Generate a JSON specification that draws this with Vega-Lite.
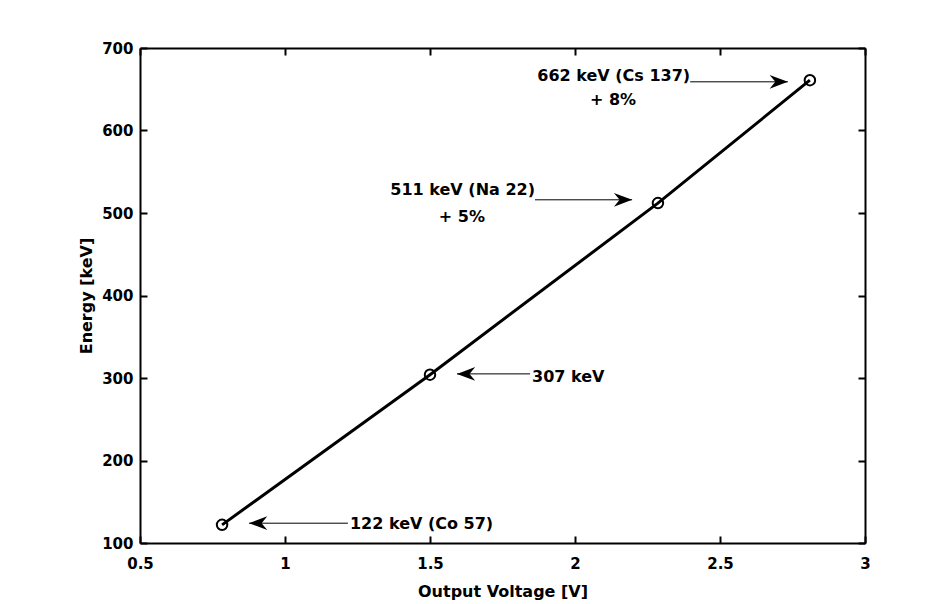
{
  "$schema": "https://vega.github.io/schema/vega-lite/v6.json",
  "width": 725,
  "height": 495,
  "autosize": {"type": "none"},
  "padding": {"left": 140, "top": 48, "right": 84, "bottom": 61},
  "background": "white",
  "config": {
    "view": {"stroke": null},
    "font": "DejaVu Sans",
    "axis": {
      "grid": false,
      "domainColor": "black",
      "domainWidth": 2,
      "tickColor": "black",
      "tickWidth": 2,
      "tickSize": -7,
      "labelColor": "black",
      "labelFont": "DejaVu Sans",
      "labelFontWeight": "bold",
      "labelFontSize": 15,
      "titleFont": "DejaVu Sans",
      "titleFontWeight": "bold",
      "titleFontSize": 16,
      "titleColor": "black"
    }
  },
  "datasets": {
    "calib": [
      {"voltage": 0.783, "energy": 122},
      {"voltage": 1.5, "energy": 304},
      {"voltage": 2.286, "energy": 512},
      {"voltage": 2.81, "energy": 661}
    ],
    "arrows": [
      {"from": 2.397, "to": 2.734, "energy": 659, "angle": 0},
      {"from": 1.862, "to": 2.197, "energy": 516, "angle": 0},
      {"from": 1.845, "to": 1.593, "energy": 305, "angle": 180},
      {"from": 1.217, "to": 0.876, "energy": 124, "angle": 180}
    ],
    "labelsRight": [
      {"voltage": 2.397, "energy": 666, "label": "662 keV (Cs 137)"},
      {"voltage": 1.862, "energy": 528, "label": "511 keV (Na 22)"}
    ],
    "labelsCenter": [
      {"voltage": 2.131, "energy": 637, "label": "+ 8%"},
      {"voltage": 1.61, "energy": 495, "label": "+ 5%"}
    ],
    "labelsLeft": [
      {"voltage": 1.852, "energy": 301, "label": "307 keV"},
      {"voltage": 1.224, "energy": 123, "label": "122 keV (Co 57)"}
    ]
  },
  "resolve": {"axis": {"x": "independent", "y": "independent"}},
  "layer": [
    {
      "data": {"name": "calib"},
      "mark": {"type": "line", "color": "black", "strokeWidth": 3},
      "encoding": {
        "x": {
          "field": "voltage", "type": "quantitative",
          "scale": {"domain": [0.5, 3], "nice": false, "zero": false},
          "axis": {"orient": "bottom", "title": "Output Voltage [V]", "values": [0.5, 1, 1.5, 2, 2.5, 3], "format": "~g", "labelPadding": 20, "titlePadding": 12, "labelFlush": false, "labelOverlap": false}
        },
        "y": {
          "field": "energy", "type": "quantitative",
          "scale": {"domain": [100, 700], "nice": false, "zero": false},
          "axis": {"orient": "left", "title": "Energy [keV]", "values": [100, 200, 300, 400, 500, 600, 700], "labelPadding": 14, "titlePadding": 7, "labelFlush": false, "labelOverlap": false}
        }
      }
    },
    {
      "data": {"name": "calib"},
      "mark": {"type": "point", "shape": "circle", "filled": false, "color": "black", "strokeWidth": 2, "size": 110, "opacity": 1},
      "encoding": {
        "x": {"field": "voltage", "type": "quantitative", "axis": {"orient": "top", "labels": false, "title": null, "values": [0.5, 1, 1.5, 2, 2.5, 3]}},
        "y": {"field": "energy", "type": "quantitative", "axis": {"orient": "right", "labels": false, "title": null, "values": [100, 200, 300, 400, 500, 600, 700]}}
      }
    },
    {
      "data": {"name": "arrows"},
      "mark": {"type": "rule", "color": "black", "strokeWidth": 1},
      "encoding": {
        "x": {"field": "from", "type": "quantitative", "axis": null},
        "x2": {"field": "to"},
        "y": {"field": "energy", "type": "quantitative", "axis": null}
      }
    },
    {
      "data": {"name": "arrows"},
      "mark": {"type": "point", "shape": "M0,0 L-1.6,-0.6 L-1.1,0 L-1.6,0.6 Z", "filled": true, "color": "black", "size": 520, "opacity": 1},
      "encoding": {
        "x": {"field": "to", "type": "quantitative", "axis": null},
        "y": {"field": "energy", "type": "quantitative", "axis": null},
        "angle": {"field": "angle", "type": "quantitative", "scale": null}
      }
    },
    {
      "data": {"name": "labelsRight"},
      "mark": {"type": "text", "align": "right", "baseline": "middle", "font": "DejaVu Sans", "fontWeight": "bold", "fontSize": 16, "color": "black"},
      "encoding": {
        "x": {"field": "voltage", "type": "quantitative", "axis": null},
        "y": {"field": "energy", "type": "quantitative", "axis": null},
        "text": {"field": "label"}
      }
    },
    {
      "data": {"name": "labelsCenter"},
      "mark": {"type": "text", "align": "center", "baseline": "middle", "font": "DejaVu Sans", "fontWeight": "bold", "fontSize": 16, "color": "black"},
      "encoding": {
        "x": {"field": "voltage", "type": "quantitative", "axis": null},
        "y": {"field": "energy", "type": "quantitative", "axis": null},
        "text": {"field": "label"}
      }
    },
    {
      "data": {"name": "labelsLeft"},
      "mark": {"type": "text", "align": "left", "baseline": "middle", "font": "DejaVu Sans", "fontWeight": "bold", "fontSize": 16, "color": "black"},
      "encoding": {
        "x": {"field": "voltage", "type": "quantitative", "axis": null},
        "y": {"field": "energy", "type": "quantitative", "axis": null},
        "text": {"field": "label"}
      }
    }
  ]
}
